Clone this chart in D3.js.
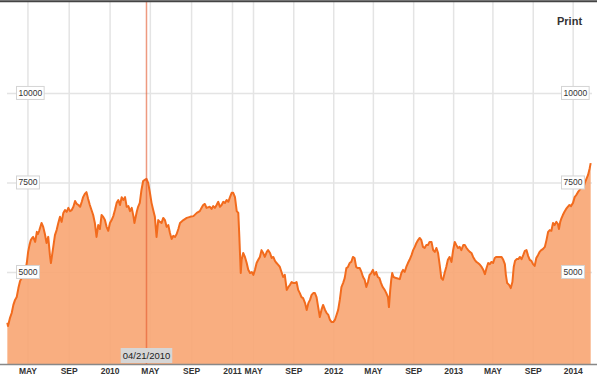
<!DOCTYPE html>
<html>
<head>
<meta charset="utf-8">
<script src="https://d3js.org/d3.v7.min.js"></script>
<style>
  body { margin: 0; background: #fff; }
  text { font-family: "Liberation Sans", Arial, sans-serif; }
</style>
</head>
<body>
<div id="chart"></div>
<script>
// index values, one array per year
const dates2009 = ["03-02","03-04","03-10","03-15","03-20","03-25","03-30","04-04","04-09","04-14",
  "04-19","04-24","04-29","05-03","05-07","05-11","05-15","05-18","05-24","05-29",
  "06-01","06-05","06-12","06-17","06-22","06-27","07-02","07-07","07-10","07-17",
  "07-22","07-27","08-01","08-06","08-11","08-16","08-21","08-26","08-31","09-05",
  "09-10","09-15","09-20","09-25","09-30","10-05","10-10","10-14","10-19","10-24",
  "10-29","11-03","11-08","11-13","11-18","11-23","11-28","12-03","12-08","12-13",
  "12-18","12-23","12-28"];
const values2009 = [3580,3490,3720,3855,4080,4220,4300,4550,4750,4830,
  4860,5000,5250,5560,5750,5890,5950,5980,5840,6120,
  6060,6150,6370,6260,6060,5810,5980,5470,5250,5700,
  6030,6170,6370,6540,6400,6650,6730,6680,6790,6700,
  6730,6820,6980,6900,6870,6820,6960,7090,7180,7230,
  7040,6870,6730,6590,6370,5980,6310,6200,6590,6540,
  6450,6260,6150];

const dates2010 = ["01-02","01-07","01-12","01-17","01-22","01-27","02-01","02-06","02-11","02-16",
  "02-21","02-26","03-03","03-08","03-13","03-16","03-23","03-27","04-01","04-06",
  "04-11","04-16","04-21","04-26","05-01","05-06","05-11","05-16","05-21","05-26",
  "05-31","06-05","06-10","06-15","06-20","06-25","06-30","07-05","07-10","07-15",
  "07-20","07-25","07-30","08-09","08-19","08-29","09-08","09-18","09-27","10-02",
  "10-07","10-12","10-17","10-27","11-01","11-06","11-11","11-16","11-21","11-26",
  "12-01","12-06","12-11","12-16","12-21","12-26","12-31"];
const values2010 = [6370,6450,6560,6730,6930,7010,6870,7090,7010,7090,
  6820,6840,6700,6790,6560,6370,6680,6820,6930,7290,
  7540,7570,7600,7490,7230,6930,6730,6540,5980,6450,
  6400,6370,6510,6450,6260,6310,6090,5920,6010,5980,
  6060,6200,6370,6450,6510,6540,6560,6650,6700,6790,
  6870,6900,6790,6820,6760,6840,6790,6870,6960,6820,
  6870,6960,6930,7010,6960,7090,7210];

const dates2011 = ["01-08","01-18","01-28","02-06","02-12","02-20","02-25","03-06","03-16","03-26",
  "04-04","04-14","04-24","05-02","05-07","05-12","05-17","05-22","05-27","06-01",
  "06-06","06-12","06-16","06-22","06-27","07-02","07-07","07-12","07-17","07-22",
  "07-27","08-01","08-06","08-12","08-17","08-22","08-27","09-01","09-06","09-11",
  "09-16","09-21","09-26","10-01","10-07","10-12","10-17","10-22","10-27","11-01",
  "11-06","11-11","11-16","11-21","11-26","12-01","12-07","12-12","12-17","12-22",
  "12-27"];
const values2011 = [7210,7090,6700,6650,5980,4970,5340,5530,5420,5250,
  5060,4970,5000,4920,5060,5250,5340,5420,5610,5530,
  5420,5560,5610,5530,5390,5420,5310,5250,5200,5140,
  5000,4860,4920,4500,4580,4640,4720,4690,4690,4720,
  4500,4410,4300,4270,4130,3940,4130,4220,4360,4410,
  4410,4300,4020,3740,3940,4080,3940,3850,3800,3660,
  3600];

const dates2012 = ["01-01","01-06","01-11","01-16","01-21","01-26","01-31","02-05","02-10","02-15",
  "02-20","02-25","03-01","03-06","03-11","03-16","03-22","03-27","04-01","04-06",
  "04-11","04-16","04-21","04-26","05-01","05-06","05-11","05-16","05-21","05-26",
  "05-31","06-06","06-11","06-16","06-19","06-23","06-26","06-29","07-03","07-11",
  "07-22","07-27","08-01","08-06","08-11","08-16","08-21","08-27","09-01","09-06",
  "09-11","09-16","09-21","09-26","10-01","10-06","10-11","10-16","10-21","10-27",
  "11-01","11-06","11-11","11-16","11-21","11-26","12-01","12-06","12-11","12-16",
  "12-21","12-27"];
const values2012 = [3600,3660,3800,3940,4220,4580,4690,4830,5110,5140,
  5250,5280,5420,5390,5140,5110,5110,5000,4860,4780,
  4580,4720,4920,4970,5060,4920,5000,4860,4830,4690,
  4580,4500,4410,4300,4020,4500,4780,4970,4860,4830,
  4800,4970,5060,5000,5140,5250,5340,5470,5610,5700,
  5810,5890,5950,5890,5700,5670,5750,5750,5840,5840,
  5610,5560,5670,5530,5200,4830,4780,4970,5140,5340,
  5420,5280];

const dates2013 = ["01-01","01-06","01-11","01-16","01-21","01-26","02-01","02-06","02-11","02-16",
  "02-21","02-26","03-03","03-08","03-13","03-18","03-24","03-29","04-03","04-08",
  "04-13","04-18","04-23","04-28","05-03","05-08","05-13","05-18","05-24","05-29",
  "06-03","06-08","06-11","06-15","06-21","06-26","07-01","07-05","07-09","07-14",
  "07-19","07-24","07-29","08-03","08-08","08-13","08-18","08-23","08-28","09-02",
  "09-07","09-12","09-17","09-22","09-27","10-02","10-08","10-13","10-18","10-23",
  "10-28","11-02","11-07","11-12","11-17","11-20","11-24","11-27","12-02","12-07",
  "12-12","12-17","12-22","12-27"];
const values2013 = [5610,5840,5750,5670,5700,5610,5750,5750,5670,5610,
  5560,5530,5420,5340,5280,5250,5200,5140,5060,4940,
  5110,5250,5220,5280,5250,5390,5420,5420,5420,5420,
  5340,5220,4920,4690,4640,4550,4720,5140,5310,5360,
  5360,5420,5360,5470,5590,5610,5450,5340,5310,5220,
  5170,5390,5470,5560,5610,5640,5700,5890,6120,6170,
  6150,6370,6310,6400,6340,6200,6400,6480,6590,6680,
  6760,6820,6870,6840];

const dates2014 = ["01-02","01-07","01-12","01-17","01-22","01-27","02-03","02-07","02-12","02-17",
  "02-22","02-25"];
const values2014 = [6930,7090,7150,7230,7290,7350,7350,7490,7600,7710,
  7900,8040];

// axis ticks
const yTicks = [5000, 7500, 10000];
const xTickDates = ["2009-05-01","2009-09-01","2010-01-01","2010-05-01","2010-09-01",
  "2011-01-01","2011-05-01","2011-09-01","2012-01-01","2012-05-01","2012-09-01",
  "2013-01-01","2013-05-01","2013-09-01","2014-01-01"];
const xTickLabels = ["MAY","SEP","2010","MAY","SEP","2011","MAY","SEP","2012",
  "MAY","SEP","2013","MAY","SEP","2014"];
// the axis squeezes Jan-May 2011
const xBreaks = ["2009-03-01","2011-01-01","2011-05-01","2014-03-01"];
const markerDate = "2010-04-21";
const markerLabel = "04/21/2010";

const parse = d3.timeParse("%Y-%m-%d");

function yearRows(year, ds, vs) {
  return ds.map((d, i) => ({date: parse(year + "-" + d), value: vs[i]}));
}
const data = [].concat(
  yearRows(2009, dates2009, values2009),
  yearRows(2010, dates2010, values2010),
  yearRows(2011, dates2011, values2011),
  yearRows(2012, dates2012, values2012),
  yearRows(2013, dates2013, values2013),
  yearRows(2014, dates2014, values2014)
);

// set the dimensions and margins of the graph
const margin = {top: 2, right: 8, bottom: 16, left: 7},
    width = 600 - margin.left - margin.right,
    height = 380 - margin.top - margin.bottom;

const root = d3.select("#chart")
    .append("svg")
    .attr("width", 600)
    .attr("height", 380);
const svg = root.append("g")
    .attr("transform", "translate(" + margin.left + "," + margin.top + ")");

const x = d3.scaleTime()
    .domain(xBreaks.map(parse))
    .range([0, 225, 246, width]);

const y = d3.scaleLinear()
    .domain([2430, 12540])
    .range([height, 0]);

// vertical grid
svg.append("g")
    .attr("transform", "translate(0," + height + ")")
    .call(d3.axisBottom(x).tickValues(xTickDates.map(parse)).tickSize(-height).tickFormat(""))
    .call(g => g.select(".domain").remove())
    .call(g => g.selectAll("line").attr("stroke", "#e4e4e4").attr("stroke-width", 1.5));

// horizontal grid
svg.append("g")
    .call(d3.axisLeft(y).tickValues(yTicks).tickSize(-width).tickFormat(""))
    .call(g => g.select(".domain").remove())
    .call(g => g.selectAll("line").attr("stroke", "#e4e4e4").attr("stroke-width", 1.5));

// area + line
const area = d3.area()
    .x(d => x(d.date))
    .y0(height)
    .y1(d => y(d.value));
const line = d3.line()
    .x(d => x(d.date))
    .y(d => y(d.value));

svg.append("path")
    .datum(data)
    .attr("fill", "#f8a572")
    .attr("fill-opacity", 0.9)
    .attr("d", area);

svg.append("path")
    .datum(data)
    .attr("fill", "none")
    .attr("stroke", "#f26b1d")
    .attr("stroke-width", 2)
    .attr("stroke-linejoin", "round")
    .attr("d", line);

// marker line
const mx = x(parse(markerDate));
svg.append("line")
    .attr("x1", mx).attr("x2", mx)
    .attr("y1", 0).attr("y2", height)
    .attr("stroke", "#e2572b")
    .attr("stroke-opacity", 0.6)
    .attr("stroke-width", 1.5);

// y labels on both sides
function yLabels(xLeft) {
  const g = svg.append("g");
  yTicks.forEach(v => {
    const lab = g.append("g").attr("transform", "translate(" + xLeft + "," + y(v) + ")");
    const rect = lab.append("rect");
    const t = lab.append("text")
        .attr("x", 2)
        .attr("y", 3)
        .attr("font-size", 8.5)
        .attr("fill", "#333")
        .text(d3.format("d")(v));
    const w = t.node().getComputedTextLength();
    rect.attr("x", 0).attr("y", -6.5)
        .attr("width", w + 4).attr("height", 13)
        .attr("fill", "#fff")
        .attr("stroke", "#d4d4d4");
  });
}
yLabels(9.5);
yLabels(554.5);

// x labels
svg.append("g")
    .attr("transform", "translate(0," + height + ")")
    .call(d3.axisBottom(x).tickValues(xTickDates.map(parse)).tickSize(0).tickPadding(1)
        .tickFormat((d, i) => xTickLabels[i]))
    .call(g => g.select(".domain").remove())
    .call(g => g.selectAll("text")
        .attr("font-family", "Liberation Sans, Arial, sans-serif")
        .attr("font-size", 8.5)
        .attr("font-weight", "bold")
        .attr("fill", "#333")
        .attr("dy", "0.71em")
        .attr("y", 3.5));

// marker date label
const dl = svg.append("g").attr("transform", "translate(" + mx + "," + (height - 9) + ")");
const dlRect = dl.append("rect");
const dlText = dl.append("text")
    .attr("text-anchor", "middle")
    .attr("y", 4)
    .attr("font-size", 9.5)
    .attr("fill", "#222")
    .text(markerLabel);
const dlw = dlText.node().getComputedTextLength();
dlRect.attr("x", -dlw / 2 - 2).attr("y", -7).attr("width", dlw + 4).attr("height", 15)
    .attr("fill", "#d6d6d6");

// frame lines
root.append("line")
    .attr("x1", 0).attr("x2", 597).attr("y1", 1.2).attr("y2", 1.2)
    .attr("stroke", "#444").attr("stroke-width", 2);
root.append("line")
    .attr("x1", 0).attr("x2", 597)
    .attr("y1", margin.top + height + 0.5).attr("y2", margin.top + height + 0.5)
    .attr("stroke", "#888").attr("stroke-width", 1.5);

root.append("text")
    .attr("x", 557)
    .attr("y", 24.5)
    .attr("font-size", 11)
    .attr("font-weight", "bold")
    .attr("fill", "#333")
    .text("Print");
</script>
</body>
</html>
